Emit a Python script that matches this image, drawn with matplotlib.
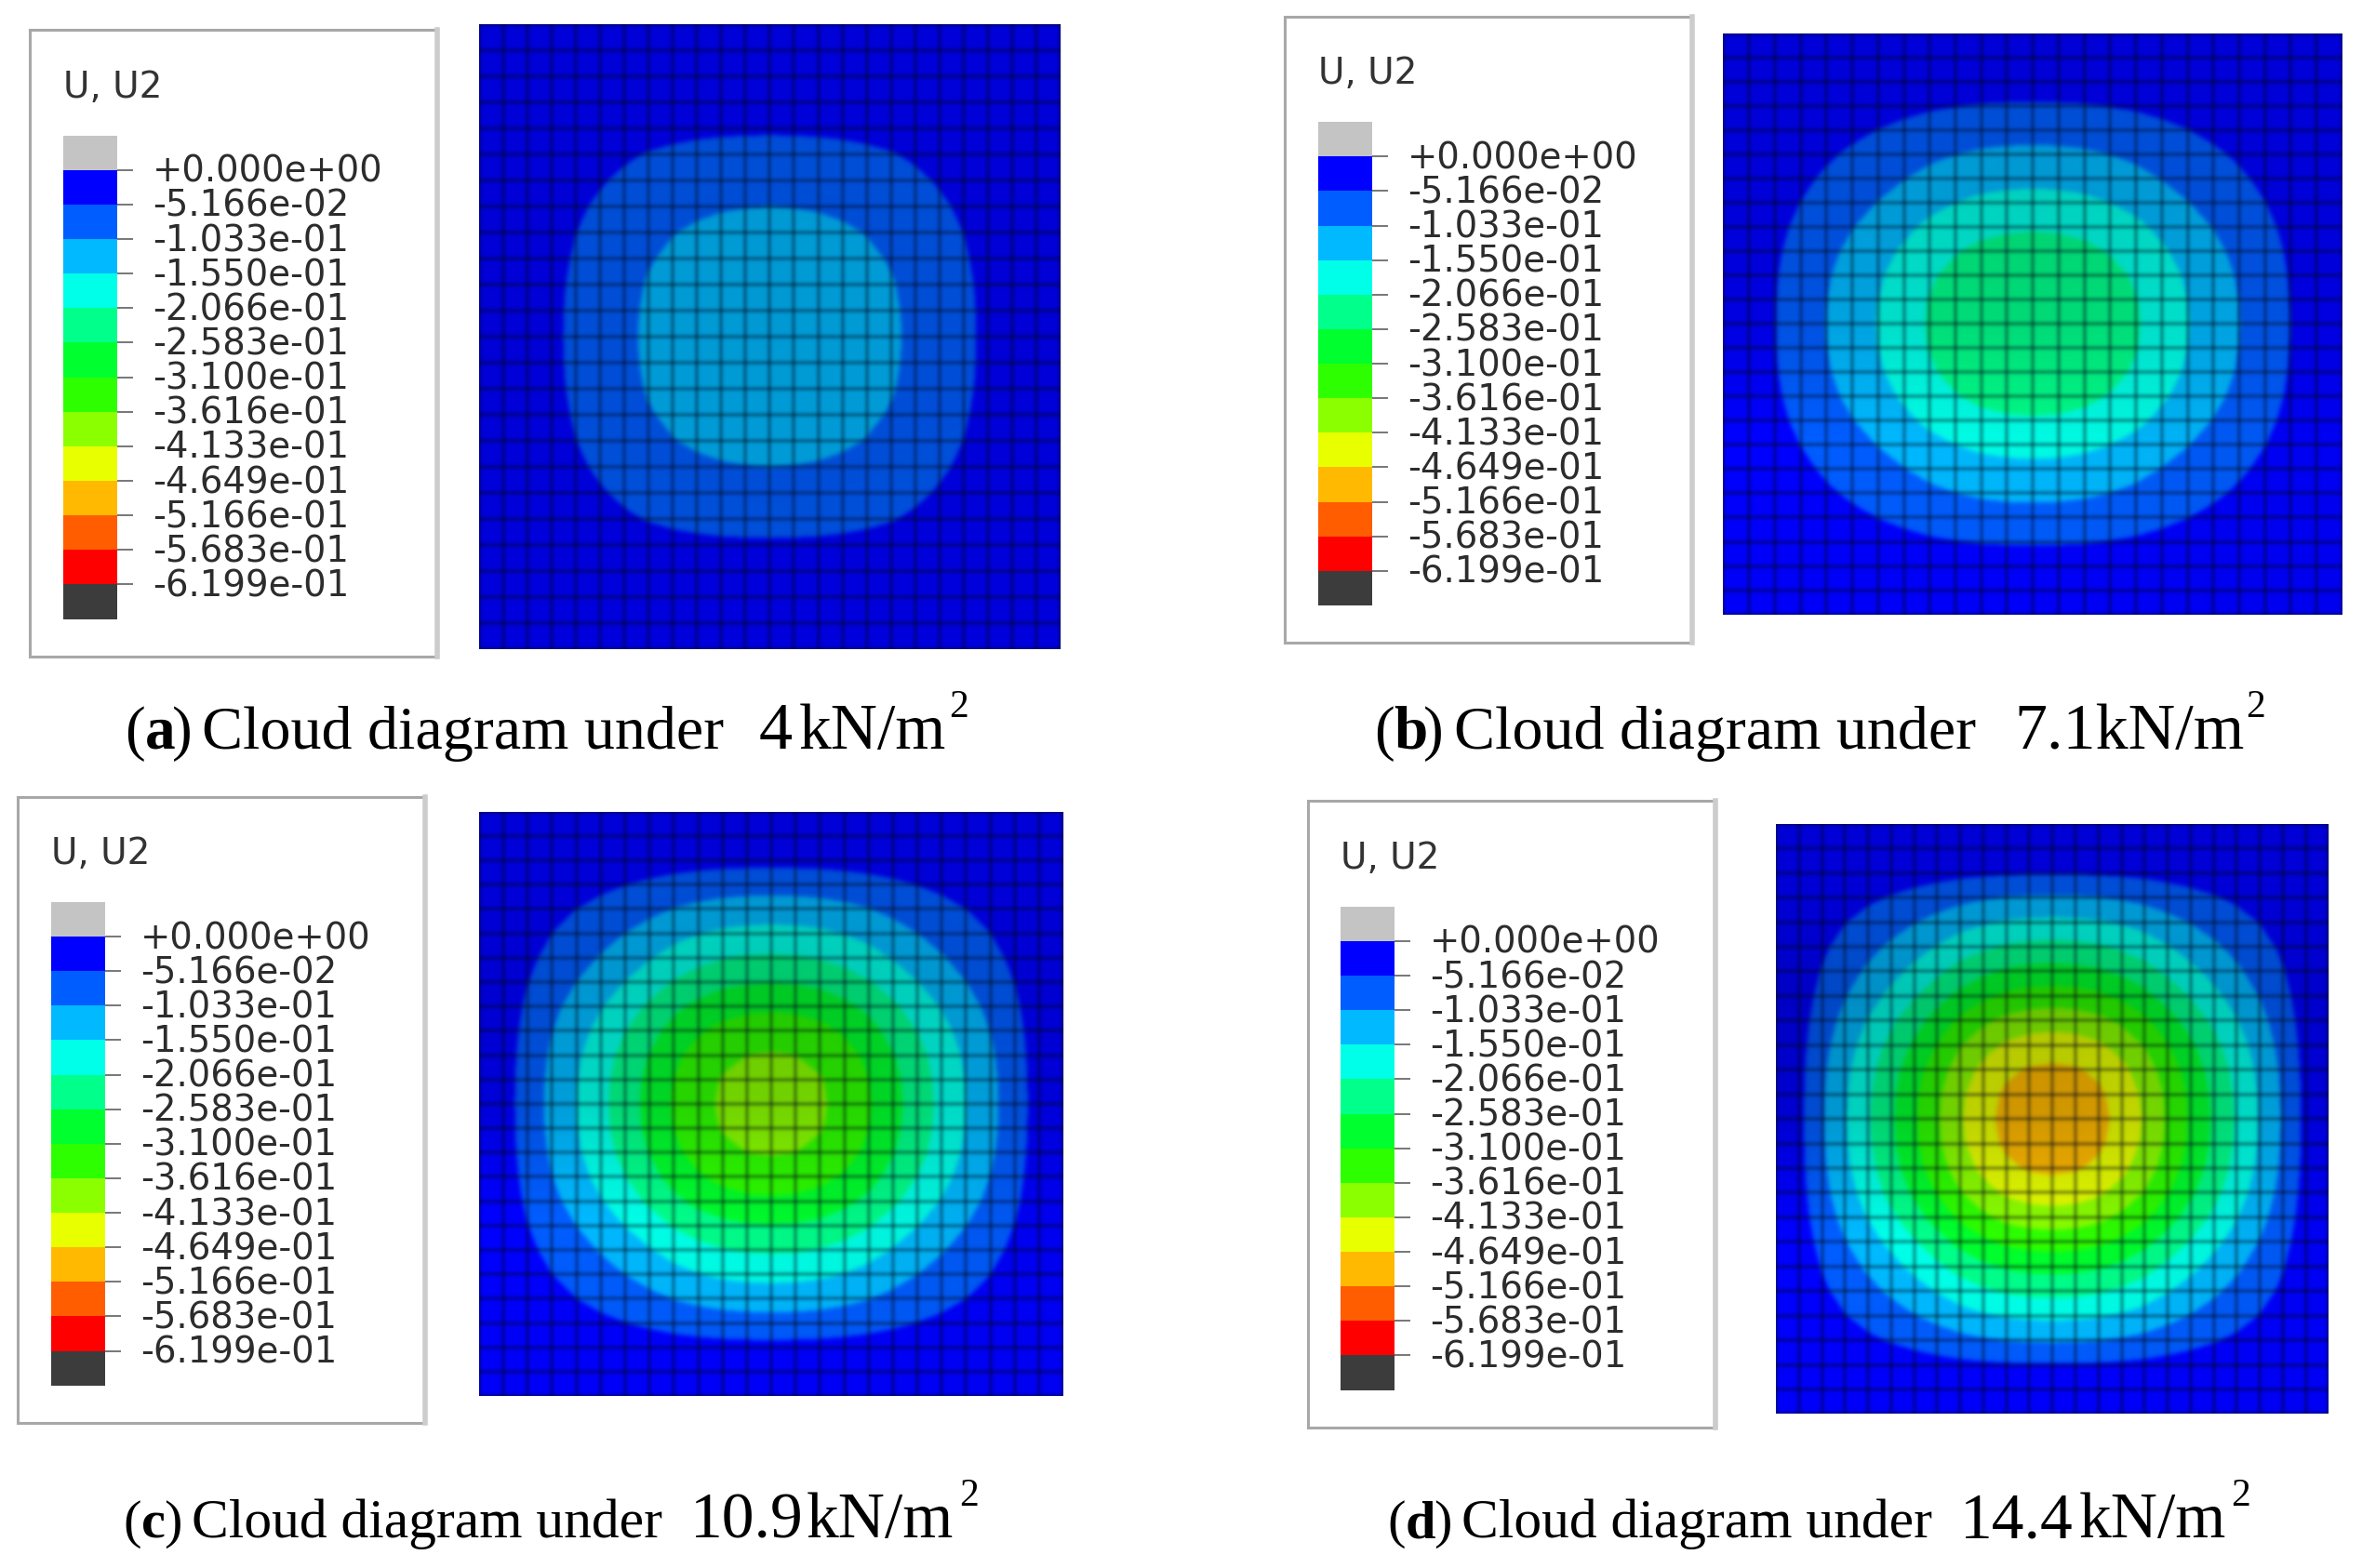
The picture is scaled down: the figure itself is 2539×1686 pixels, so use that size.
import numpy as np
import matplotlib
matplotlib.use("Agg")
import matplotlib.pyplot as plt
from matplotlib.patches import Rectangle
from matplotlib.transforms import Affine2D
from matplotlib.colors import to_rgb

# legend of the Abaqus plot
legend_labels = ["+0.000e+00", "-5.166e-02", "-1.033e-01", "-1.550e-01", "-2.066e-01",
                 "-2.583e-01", "-3.100e-01", "-3.616e-01", "-4.133e-01", "-4.649e-01",
                 "-5.166e-01", "-5.683e-01", "-6.199e-01"]
levels = [0.0, -0.05166, -0.1033, -0.155, -0.2066, -0.2583, -0.31, -0.3616, -0.4133,
          -0.4649, -0.5166, -0.5683, -0.6199]
band_colors = ["#0000ff", "#005dff", "#00b9ff", "#00ffe8", "#00ff8b", "#00ff2e", "#2eff00",
               "#8bff00", "#e8ff00", "#ffb900", "#ff5d00", "#ff0000"]
top_color = "#c4c4c4"
bottom_color = "#3c3c3c"

# deflection shape at the 25 mesh nodes, read along the centre lines of the plate
shape_x = [0.0, 0.08, 0.20, 0.305, 0.405, 0.505, 0.61, 0.715, 0.82, 0.90, 0.96, 0.99, 1.0,
           0.99, 0.96, 0.90, 0.82, 0.715, 0.61, 0.505, 0.405, 0.305, 0.20, 0.08, 0.0]
shape_y = [0.0, 0.03, 0.10, 0.22, 0.335, 0.445, 0.555, 0.67, 0.785, 0.88, 0.95, 0.988, 1.0,
           0.988, 0.95, 0.88, 0.785, 0.67, 0.555, 0.445, 0.335, 0.22, 0.10, 0.03, 0.0]

# the lightest load has a flatter shape
shape_x_a = [0.0, 0.07, 0.19, 0.31, 0.44, 0.56, 0.68, 0.79, 0.87, 0.93, 0.97, 0.99, 1.0,
             0.99, 0.97, 0.93, 0.87, 0.79, 0.68, 0.56, 0.44, 0.31, 0.19, 0.07, 0.0]
shape_y_a = [0.0, 0.02, 0.08, 0.20, 0.33, 0.49, 0.62, 0.74, 0.84, 0.91, 0.965, 0.99, 1.0,
             0.99, 0.965, 0.91, 0.84, 0.74, 0.62, 0.49, 0.33, 0.20, 0.08, 0.02, 0.0]

panel_shape_x = [shape_x_a, shape_x, shape_x, shape_x]
panel_shape_y = [shape_y_a, shape_y, shape_y, shape_y]

# peak deflection of each panel
peaks = [0.14, 0.258, 0.385, 0.50]

# how dark the picture is over each plate (rows top to bottom, columns left to right)
shades = [
    [[0.15, 0.15, 0.15], [0.16, 0.17, 0.16], [0.16, 0.17, 0.16], [0.15, 0.16, 0.15], [0.14, 0.14, 0.14]],
    [[0.15, 0.16, 0.15], [0.15, 0.18, 0.15], [0.12, 0.15, 0.12], [0.00, 0.02, 0.05], [0.03, 0.03, 0.06]],
    [[0.15, 0.16, 0.15], [0.18, 0.22, 0.18], [0.15, 0.18, 0.15], [0.00, 0.03, 0.06], [0.03, 0.03, 0.05]],
    [[0.16, 0.16, 0.16], [0.23, 0.23, 0.20], [0.18, 0.18, 0.15], [0.00, 0.01, 0.05], [0.02, 0.02, 0.04]],
]

S = 2539 / 1568
W, H = 2539, 1686

# layout in pixels of the shrunk view
box_xy = [(20, 20), (853, 11), (12, 529), (868, 532)]
plate_xyxy = [(318, 16, 704, 431), (1144, 22, 1555, 408), (318, 539, 706, 927), (1179, 547, 1546, 939)]
grid_color = "#000818"

captions = [
    (497, [(83, "(", 47, "normal"), (96, "a", 47, "bold"), (114, ")", 47, "normal"),
           (134, "Cloud diagram under", 47.5, "normal"), (504, "4", 52, "normal"), (530, "kN/m", 50, "normal"),
           (630, "2", 30, "normal", -21)]),
    (497, [(912, "(", 47, "normal"), (925, "b", 47, "bold"), (945, ")", 47, "normal"),
           (965, "Cloud diagram under", 47.5, "normal"), (1337, "7.1kN/m", 50.5, "normal"),
           (1491, "2", 30, "normal", -21)]),
    (1021, [(82, "(", 42, "normal"), (94, "c", 42, "bold"), (109, ")", 42, "normal"),
            (127, "Cloud diagram under", 42.8, "normal"), (458, "10.9", 50, "normal"), (535, "kN/m", 50, "normal"),
            (637, "2", 30, "normal", -21)]),
    (1021, [(921, "(", 42, "normal"), (933, "d", 42, "bold"), (952, ")", 42, "normal"),
            (970, "Cloud diagram under", 42.8, "normal"), (1301, "14.4", 50, "normal"), (1380, "kN/m", 50, "normal"),
            (1481, "2", 30, "normal", -21)]),
]


def gaussian_blur(sigma, rgb=None):
    radius = int(3 * sigma)
    kernel = np.exp(-0.5 * (np.arange(-radius, radius + 1) / sigma) ** 2)
    kernel = kernel / kernel.sum()

    def blur(image, dpi):
        out = image
        for axis in (0, 1):
            pad = [(0, 0)] * 3
            pad[axis] = (radius, radius)
            padded = np.pad(out, pad, mode="edge")
            windows = np.lib.stride_tricks.sliding_window_view(padded, kernel.size, axis=axis)
            out = windows @ kernel
        if rgb is not None:
            # transparent pixels would bleed their colour into the line otherwise
            out = out.copy()
            out[..., :3] = rgb
        return out, 0, 0

    return blur


def to_fig(x0, y0, x1, y1):
    # shrunk view pixels to figure fraction
    return [x0 * S / W, 1 - y1 * S / H, (x1 - x0) * S / W, (y1 - y0) * S / H]


fig = plt.figure(figsize=(W / 100, H / 100), dpi=100, facecolor="white")

overlay = fig.add_axes([0, 0, 1, 1], zorder=0)
overlay.set_xlim(0, W / S)
overlay.set_ylim(H / S, 0)
overlay.axis("off")

nodes = np.linspace(0, 1, len(shape_x))
sorted_levels = levels[::-1]
sorted_colors = band_colors[::-1]

for i in range(4):
    # plate
    ax = fig.add_axes(to_fig(*plate_xyxy[i]), zorder=2)
    field = -peaks[i] * np.outer(panel_shape_y[i], panel_shape_x[i])
    contours = ax.contourf(nodes, nodes, field, levels=sorted_levels, colors=sorted_colors, antialiased=False)
    contours.set_agg_filter(gaussian_blur(2.5))
    ax.set_facecolor(band_colors[0])
    alpha = np.array(shades[i])
    ax.imshow(np.dstack([np.zeros(alpha.shape + (3,)), alpha]), extent=(0, 1, 1, 0),
              aspect="auto", interpolation="bilinear", zorder=3)
    for lines in (ax.vlines(nodes, 0, 1), ax.hlines(nodes, 0, 1)):
        lines.set(color=grid_color, alpha=0.62, linewidth=1.7, zorder=4,
                  agg_filter=gaussian_blur(1.8, to_rgb(grid_color)))
    ax.set_xlim(0, 1)
    ax.set_ylim(1, 0)
    ax.axis("off")

    # legend box
    bx, by = box_xy[i]
    overlay.add_patch(Rectangle((bx, by), 270, 416, facecolor="white", edgecolor="#a8a8a8", linewidth=2.2))
    overlay.plot([bx + 270.5, bx + 270.5], [by, by + 416], color="#cccccc", linewidth=4)
    overlay.text(bx + 22, by + 38, "U, U2", fontsize=28, color="#333333", family="DejaVu Sans",
                 va="center", ha="left")

    # colour legend
    cax = fig.add_axes(to_fig(bx + 22, by + 70, bx + 58, by + 391), zorder=1)
    rows = [top_color] + band_colors + [bottom_color]
    cax.bar(np.zeros(len(rows)), np.ones(len(rows)), bottom=np.arange(len(rows)), width=1, color=rows)
    cax.set_xlim(-0.5, 0.5)
    cax.set_ylim(len(rows), 0)
    cax.set_xticks([])
    cax.yaxis.tick_right()
    cax.set_yticks(np.arange(1, len(rows)), legend_labels)
    cax.tick_params(axis="y", length=12, width=1.4, color="#777777", pad=15, labelsize=27.8,
                    labelcolor="#2c2c2c")
    for label in cax.get_yticklabels():
        label.set_verticalalignment("center_baseline")
        label.set_transform(label.get_transform() + Affine2D().translate(0, 2))
    for spine in cax.spines.values():
        spine.set_visible(False)

for baseline, pieces in captions:
    for piece in pieces:
        x, text, size, weight = piece[:4]
        shift = piece[4] if len(piece) > 4 else 0
        overlay.text(x, baseline + shift, text, fontsize=size, fontweight=weight, family="Liberation Serif",
                     va="baseline", ha="left", color="black")

fig.savefig("out.png", dpi=100)
